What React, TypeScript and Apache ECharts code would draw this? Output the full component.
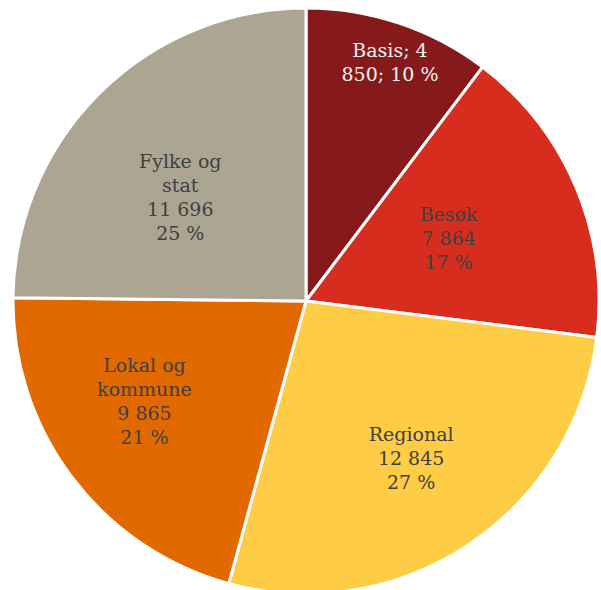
import React, { useEffect, useRef } from "react";
import * as echarts from "echarts";

const categories = ["Basis", "Besøk", "Regional", "Lokal og\nkommune", "Fylke og\nstat"];
const values = [4850, 7864, 12845, 9865, 11696];
const colors = ["#861A1A", "#D62D1F", "#FFCC46", "#E26800", "#ABA592"];
const labelColors = ["#F2F2F2", "#404040", "#404040", "#404040", "#404040"];
// label placement: angle (deg clockwise from top) and radius fraction
const labelAngles = [19.4, 66.2, 146.2, 238.3, 309.5];
const labelRadii = [0.863, 0.532, 0.645, 0.648, 0.556];

const CX = 306;
const CY = 301;
const R = 293;

const fmt = (v: number) => {
  const s = String(v);
  return s.length > 3 ? s.slice(0, s.length - 3) + " " + s.slice(-3) : s;
};

export default function App() {
  const ref = useRef<HTMLDivElement>(null);
  useEffect(() => {
    document.body.style.margin = "0";
    const chart = echarts.init(ref.current!, undefined, { renderer: "svg" });
    const total = values.reduce((a, b) => a + b, 0);
    const data = categories.map((name, i) => {
      const pct = Math.round((values[i] / total) * 100);
      const text =
        i === 0
          ? `${name}; ${fmt(values[i]).split(" ")[0]}\n${fmt(values[i]).split(" ")[1]}; ${pct} %`
          : `${name}\n${fmt(values[i])}\n${pct} %`;
      return {
        name,
        value: values[i],
        itemStyle: { color: colors[i] },
        label: { formatter: text, color: labelColors[i] },
      };
    });
    chart.setOption({
      animation: false,
      series: [
        {
          type: "pie",
          center: [CX, CY],
          radius: [0, R],
          startAngle: 90,
          clockwise: true,
          itemStyle: { borderColor: "#ffffff", borderWidth: 3 },
          label: {
            show: true,
            position: "inside",
            fontFamily: "'DejaVu Serif', serif",
            fontSize: 19,
            lineHeight: 24,
            align: "center",
          },
          labelLine: { show: false },
          labelLayout: (p: any) => {
            const i = p.dataIndex;
            const a = (labelAngles[i] * Math.PI) / 180;
            const r = labelRadii[i] * R;
            return {
              x: CX + r * Math.sin(a),
              y: CY - r * Math.cos(a),
              align: "center",
              verticalAlign: "middle",
            };
          },
          emphasis: { disabled: true },
          data,
        },
      ],
    });
    return () => chart.dispose();
  }, []);
  return <div ref={ref} style={{ width: 601, height: 590 }} />;
}
